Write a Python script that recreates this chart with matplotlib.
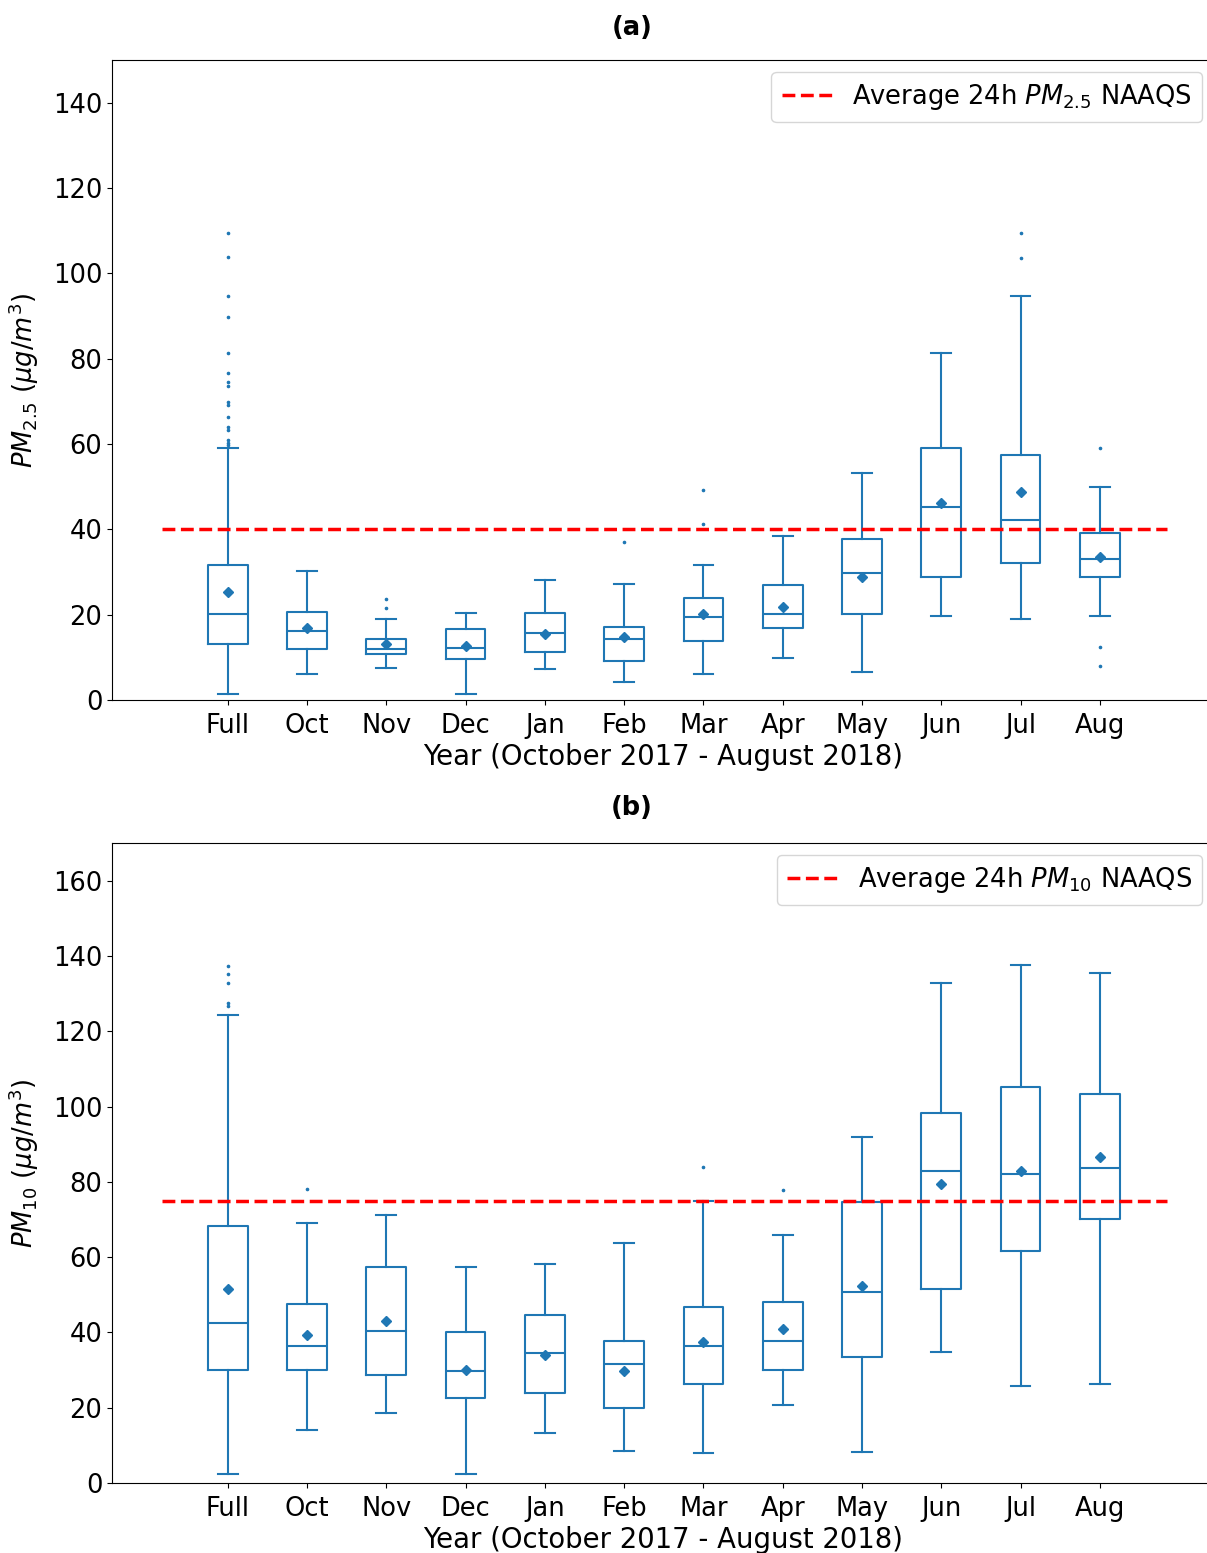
import numpy as np
import matplotlib
matplotlib.use("Agg")
import matplotlib.pyplot as plt

months = ['Full', 'Oct', 'Nov', 'Dec', 'Jan', 'Feb', 'Mar', 'Apr', 'May', 'Jun', 'Jul', 'Aug']

# PM2.5 box statistics per month
pm25_whislo = [1.5, 6.2, 7.4, 1.5, 7.3, 4.2, 6.2, 9.8, 6.6, 19.7, 18.9, 19.8]
pm25_q1 = [13.1, 11.9, 10.8, 9.7, 11.3, 9.2, 13.8, 16.9, 20.1, 28.9, 32.0, 28.9]
pm25_med = [20.2, 16.2, 11.9, 12.3, 15.6, 14.4, 19.5, 20.2, 29.7, 45.3, 42.1, 33.0]
pm25_q3 = [31.6, 20.7, 14.4, 16.7, 20.4, 17.2, 23.9, 26.9, 37.7, 59.1, 57.4, 39.2]
pm25_whishi = [59.1, 30.3, 19.1, 20.3, 28.1, 27.1, 31.6, 38.5, 53.3, 81.4, 94.6, 49.9]
pm25_mean = [25.4, 16.9, 13.2, 12.7, 15.5, 14.7, 20.2, 21.8, 28.8, 46.1, 48.8, 33.4]
pm25_fliers = [
    [109.5, 103.8, 94.6, 89.7, 81.4, 76.6, 74.5, 73.7, 69.8, 69.1, 66.3, 64.0, 63.2, 61.0, 60.2, 59.7],
    [], [23.6, 21.5], [], [], [37.1], [49.2, 41.3], [], [], [],
    [109.5, 103.7], [59.1, 12.4, 8.0],
]

# PM10 box statistics per month
pm10_whislo = [2.4, 14.1, 18.7, 2.4, 13.2, 8.6, 8.0, 20.7, 8.2, 34.8, 25.8, 26.3]
pm10_q1 = [30.0, 30.0, 28.7, 22.7, 23.9, 19.9, 26.2, 30.1, 33.5, 51.4, 61.6, 70.1]
pm10_med = [42.5, 36.4, 40.3, 29.7, 34.4, 31.6, 36.4, 37.6, 50.8, 82.8, 82.2, 83.6]
pm10_q3 = [68.2, 47.5, 57.4, 40.1, 44.6, 37.8, 46.8, 48.0, 74.7, 98.4, 105.2, 103.3]
pm10_whishi = [124.4, 69.0, 71.2, 57.4, 58.2, 63.7, 74.8, 66.0, 92.0, 132.9, 137.5, 135.4]
pm10_mean = [51.4, 39.3, 43.1, 30.1, 34.0, 29.7, 37.4, 41.0, 52.2, 79.3, 83.0, 86.5]
pm10_fliers = [
    [137.4, 135.3, 132.9, 127.5, 126.8],
    [78.0], [], [], [], [], [84.0], [77.9], [], [], [], [],
]

naaqs_pm25 = 40
naaqs_pm10 = 75


def make_stats(lo, q1, med, q3, hi, mean, fl):
    stats = []
    for i in range(len(months)):
        stats.append({'whislo': lo[i], 'q1': q1[i], 'med': med[i], 'q3': q3[i],
                      'whishi': hi[i], 'mean': mean[i], 'fliers': fl[i],
                      'label': months[i]})
    return stats


W, H = 1207, 1553
fig = plt.figure(figsize=(W / 100, H / 100), dpi=100)
ax1 = fig.add_axes([112 / W, (H - 700) / H, 1102 / W, 640 / H])
ax2 = fig.add_axes([112 / W, (H - 1483) / H, 1102 / W, 640 / H])

c = '#1f77b4'
fs = 18.5
pos = np.arange(len(months))

panels = [
    (ax1, make_stats(pm25_whislo, pm25_q1, pm25_med, pm25_q3, pm25_whishi, pm25_mean, pm25_fliers),
     naaqs_pm25, 150, r'Average 24h $PM_{2.5}$ NAAQS', r'$PM_{2.5}$ $(\mu g/m^3)$'),
    (ax2, make_stats(pm10_whislo, pm10_q1, pm10_med, pm10_q3, pm10_whishi, pm10_mean, pm10_fliers),
     naaqs_pm10, 170, r'Average 24h $PM_{10}$ NAAQS', r'$PM_{10}$ $(\mu g/m^3)$'),
]

for ax, stats, lim, top, leg, ylab in panels:
    ax.bxp(stats, positions=pos, widths=0.5, showmeans=True,
           boxprops=dict(color=c, linewidth=1.5),
           whiskerprops=dict(color=c, linewidth=1.5),
           capprops=dict(color=c, linewidth=1.5),
           medianprops=dict(color=c, linewidth=1.5),
           meanprops=dict(marker='D', markerfacecolor=c, markeredgecolor=c, markersize=5),
           flierprops=dict(marker='o', markerfacecolor=c, markeredgecolor=c, markersize=1.6))
    ax.hlines(lim, -0.83, 11.85, colors='red', linestyles='--', linewidth=2.5, label=leg)
    ax.set_xlim(-1.46, 12.44)
    ax.set_ylim(0, top)
    ax.set_xticks(pos)
    ax.set_xticklabels(months)
    ax.tick_params(labelsize=fs)
    ax.tick_params(axis='x', pad=6)
    ax.set_xlabel('Year (October 2017 - August 2018)', fontsize=19.8, labelpad=3)
    ax.set_ylabel(ylab, fontsize=fs)
    ax.yaxis.set_label_coords(-0.064, 0.5)
    ax.legend(loc='upper right', fontsize=fs, handlelength=2.1, handletextpad=0.65,
              borderaxespad=0.45)

fig.text(632 / W, 1 - 28 / H, '(a)', ha='center', va='center', fontsize=fs, fontweight='bold')
fig.text(632 / W, 1 - 808 / H, '(b)', ha='center', va='center', fontsize=fs, fontweight='bold')

fig.savefig('out.png', dpi=100)
